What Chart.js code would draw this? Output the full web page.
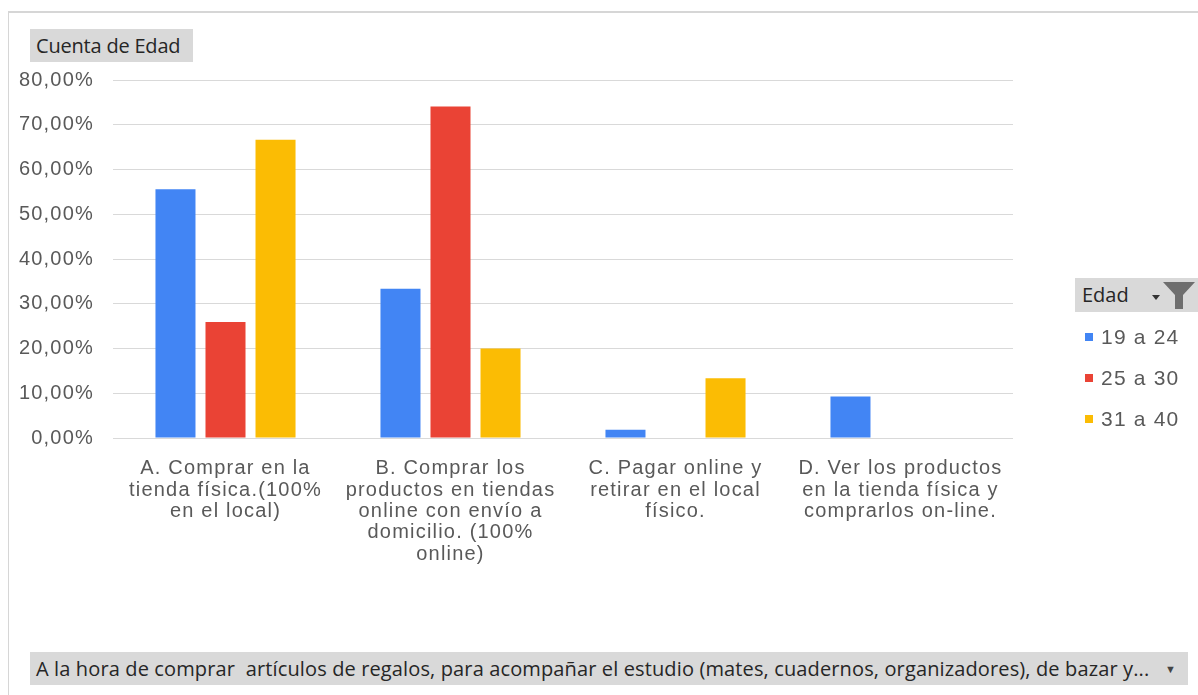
<!DOCTYPE html>
<html>
<head>
<meta charset="utf-8">
<script src="https://cdn.jsdelivr.net/npm/chart.js@4/dist/chart.umd.min.js"></script>
<style>
  body { margin: 0; background: #fff; }
  #wrap { position: relative; width: 1198px; height: 695px; overflow: hidden; }
  #wrap canvas { position: absolute; left: 0; top: 0; }
  .frame { position: absolute; left: 8px; top: 11px; right: -2px; bottom: -2px;
           border-left: 1px solid #d6d6d6; border-top: 2px solid #d6d6d6; }
  .btn { position: absolute; background: #d9d9d9; color: #262626;
         font-family: "Open Sans", sans-serif; white-space: nowrap; }
  #valueBtn { left: 30px; top: 29px; width: 163px; height: 33px; font-size: 20px; line-height: 33px; padding-left: 6px; box-sizing: border-box; letter-spacing: -0.2px; }
  #seriesBtn { left: 1075px; top: 278px; width: 123px; height: 34px; font-size: 20px; line-height: 34px; padding-left: 7px; box-sizing: border-box; }
  #seriesBtn svg { position: absolute; top: 0; left: 0; }
  #axisBtn { left: 30px; top: 652px; width: 1158px; height: 33px; font-size: 20px; line-height: 33px; padding-left: 6px; box-sizing: border-box; letter-spacing: 0.13px; overflow: hidden; }
  #axisBtn .arrow { position: absolute; right: 12px; top: 0; font-size: 11px; color: #444; letter-spacing: 0; }
  #legend { position: absolute; left: 1085px; top: 322px; font-family: "Liberation Sans", Arial, sans-serif;
            font-size: 21px; color: #595959; letter-spacing: 1.2px; }
  #legend div { height: 41px; line-height: 30px; white-space: nowrap; }
  #legend span { display: inline-block; width: 8px; height: 8px; margin-right: 8px; vertical-align: 3px; }
</style>
</head>
<body>
<div id="wrap">
  <canvas id="chart" width="1198" height="695"></canvas>
  <div class="frame"></div>
  <div class="btn" id="valueBtn">Cuenta de Edad</div>
  <div class="btn" id="seriesBtn">Edad
    <svg width="123" height="34">
      <path d="M77 17 L85 17 L81 22 Z" fill="#333"/>
      <path d="M88 4 L120 4 L108 17 L108 31 L100 31 L100 17 Z" fill="#6e6e6e"/>
    </svg>
  </div>
  <div class="btn" id="axisBtn">A la hora de comprar&nbsp; artículos de regalos, para acompañar el estudio (mates, cuadernos, organizadores), de bazar y...<span class="arrow">▼</span></div>
  <div id="legend"></div>
</div>
<script>
const categories = [
  ["A. Comprar en la", "tienda física.(100%", "en el local)"],
  ["B. Comprar los", "productos en tiendas", "online con envío a", "domicilio. (100%", "online)"],
  ["C. Pagar online y", "retirar en el local", "físico."],
  ["D. Ver los productos", "en la tienda física y", "comprarlos on-line."]
];
const seriesNames = ["19 a 24", "25 a 30", "31 a 40"];
const colors = ["#4285f4", "#ea4335", "#fbbc04"];
// porcentaje del total de cada grupo de edad
const age19to24 = [55.56, 33.33, 1.85, 9.26];
const age25to30 = [25.93, 74.07, null, null];
const age31to40 = [66.67, 20.00, 13.33, null];
const yTicks = [0, 10, 20, 30, 40, 50, 60, 70, 80];

const series = [age19to24, age25to30, age31to40];

// texto algo espaciado, como en la tabla dinámica original
const spacing = {
  id: "spacing",
  beforeUpdate(chart) { chart.ctx.letterSpacing = "1.2px"; },
  beforeDraw(chart) { chart.ctx.letterSpacing = "1.2px"; }
};

const chart = new Chart(document.getElementById("chart"), {
  type: "bar",
  data: {
    labels: categories,
    datasets: series.map((d, i) => ({
      label: seriesNames[i],
      data: d,
      backgroundColor: colors[i],
      borderWidth: 0,
      categoryPercentage: 0.667,
      barPercentage: 0.8
    }))
  },
  options: {
    responsive: false,
    animation: false,
    layout: { padding: { left: 8, top: 80, right: 185, bottom: 0 } },
    plugins: { legend: { display: false }, tooltip: { enabled: false } },
    scales: {
      x: {
        grid: { display: false },
        border: { display: false },
        ticks: {
          color: "#595959",
          font: { family: "Liberation Sans", size: 20, lineHeight: 1.07 },
          padding: 12,
          maxRotation: 0,
          autoSkip: false
        },
        afterFit(scale) { scale.height = 257; }
      },
      y: {
        min: 0,
        max: 80,
        afterBuildTicks(scale) { scale.ticks = yTicks.map(v => ({ value: v })); },
        grid: { color: "#d9d9d9", drawTicks: false },
        border: { display: false },
        ticks: {
          color: "#595959",
          font: { family: "Liberation Sans", size: 20 },
          padding: 19,
          callback: v => v.toFixed(2).replace(".", ",") + "%"
        },
        afterFit(scale) { scale.width = 105; }
      }
    }
  },
  plugins: [spacing]
});

document.getElementById("legend").innerHTML = chart.data.datasets
  .map(ds => `<div><span style="background:${ds.backgroundColor}"></span>${ds.label}</div>`)
  .join("");
</script>
</body>
</html>
